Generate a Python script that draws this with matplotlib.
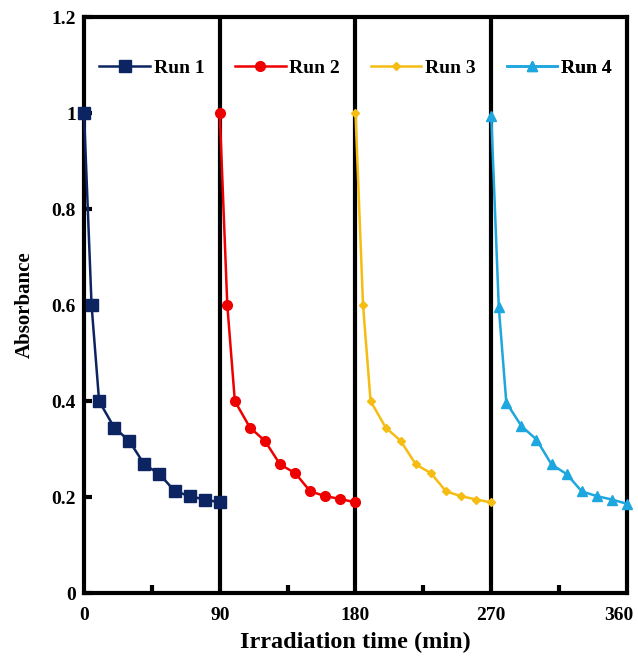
import numpy as np
import matplotlib
matplotlib.use("Agg")
import matplotlib.pyplot as plt
import matplotlib.transforms as mtransforms

# irradiation times (min) for each cycle of 90 min
t_run1 = [0, 5, 10, 20, 30, 40, 50, 60, 70, 80, 90]
t_run2 = [90, 95, 100, 110, 120, 130, 140, 150, 160, 170, 180]
t_run3 = [180, 185, 190, 200, 210, 220, 230, 240, 250, 260, 270]
t_run4 = [270, 275, 280, 290, 300, 310, 320, 330, 340, 350, 360]

# absorbance readings
a_run1 = [1.0, 0.6, 0.4, 0.345, 0.317, 0.268, 0.248, 0.213, 0.202, 0.195, 0.189]
a_run2 = [1.0, 0.6, 0.4, 0.345, 0.317, 0.268, 0.25, 0.212, 0.202, 0.196, 0.189]
a_run3 = [1.0, 0.6, 0.4, 0.345, 0.317, 0.268, 0.25, 0.212, 0.202, 0.195, 0.189]
a_run4 = [0.995, 0.597, 0.397, 0.348, 0.32, 0.268, 0.248, 0.212, 0.202, 0.195, 0.186]

run_names = ["Run 1", "Run 2", "Run 3", "Run 4"]
y_ticks = [0, 0.2, 0.4, 0.6, 0.8, 1.0, 1.2]
y_ticklabels = ["0", "0.2", "0.4", "0.6", "0.8", "1", "1.2"]
x_ticks = [0, 90, 180, 270, 360]
cycle_edges = [90, 180, 270]

plt.rcParams['font.family'] = ['Liberation Serif', 'DejaVu Serif']
plt.rcParams['font.weight'] = 'bold'

fig = plt.figure(figsize=(6.38, 6.59), dpi=100)
ax = fig.add_axes([0.1317, 0.100, 0.851, 0.874])

# colour, marker, marker size per run
styles = [("#0c2461", "s", 8),
          ("#ee0000", "o", 7),
          ("#f5bd12", "D", 4.5),
          ("#1ea6de", "^", 7.5)]
times = [t_run1, t_run2, t_run3, t_run4]
absorb = [a_run1, a_run2, a_run3, a_run4]

handles = []
for t, a, (c, m, ms), name in zip(times, absorb, styles, run_names):
    h, = ax.plot(t, a, color=c, marker=m, markersize=ms, linewidth=1.8,
                 label=name, zorder=3, clip_on=False)
    handles.append(h)

# thick separators between cycles
for xe in cycle_edges:
    ax.axvline(xe, color="black", linewidth=3.0, zorder=2)

ax.set_xlim(0, 360)
ax.set_ylim(0, 1.2)
ax.set_xticks(x_ticks)
ax.set_xticks([45, 135, 225, 315], minor=True)
ax.set_yticks(y_ticks)
ax.set_yticklabels(y_ticklabels)

for s in ax.spines.values():
    s.set_linewidth(3.0)

ax.tick_params(axis='both', which='both', direction='in', width=3,
               labelsize=14)
ax.tick_params(axis='x', which='major', length=0, pad=10)
ax.tick_params(axis='x', which='minor', length=6)
ax.tick_params(axis='y', which='major', length=6, pad=6)
for lab in ax.get_xticklabels() + ax.get_yticklabels():
    lab.set_fontweight('bold')

# keep the last x label inside the figure
last = ax.get_xticklabels()[-1]
last.set_transform(last.get_transform() +
                   mtransforms.ScaledTranslation(-8 / 100, 0, fig.dpi_scale_trans))

ax.set_xlabel("Irradiation time (min)", fontsize=17.5, fontweight='bold', labelpad=6)
ax.set_ylabel("Absorbance", fontsize=15, fontweight='bold', labelpad=12)

# one legend entry centred in each cycle panel
for i, h in enumerate(handles):
    leg = ax.legend(handles=[h], loc='center',
                    bbox_to_anchor=((45 + 90 * i) / 360, 0.912),
                    frameon=False, handlelength=2.6, handletextpad=0.2,
                    prop={'weight': 'bold', 'size': 14})
    ax.add_artist(leg)

fig.savefig("out.png", dpi=100)
